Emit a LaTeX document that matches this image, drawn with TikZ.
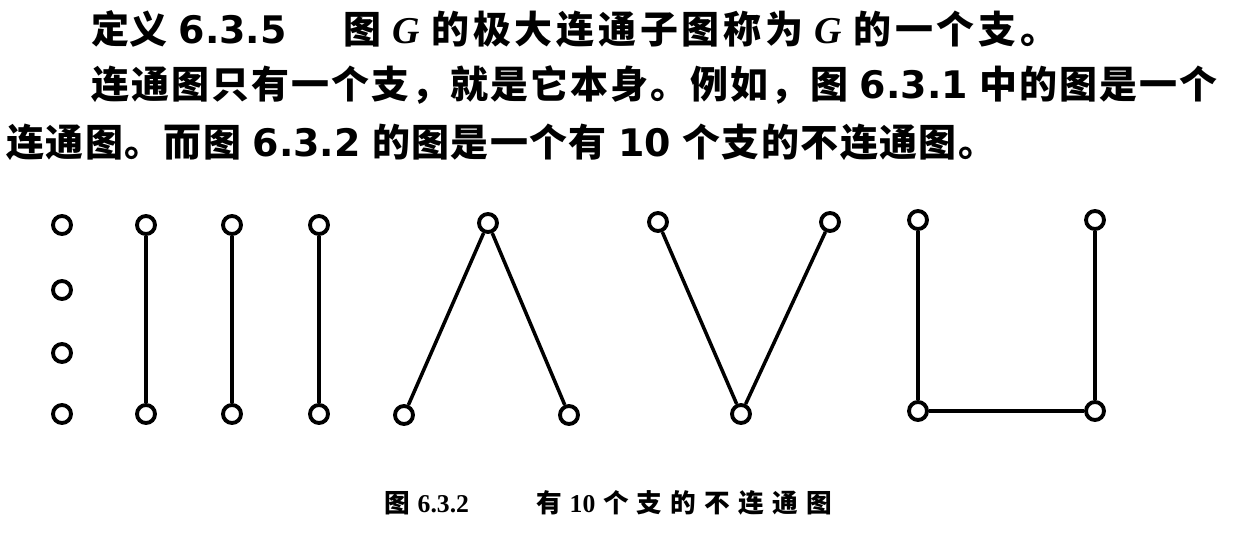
\documentclass[tikz,border=0pt]{standalone}
\usepackage{fontspec}
\newfontfamily\cjk{Noto Sans CJK SC}
\newfontfamily\latn{Liberation Serif}
\newfontfamily\digs{DejaVu Sans}
\newcommand{\num}[1]{\hspace{.3em}{\digs\bfseries #1}\hspace{.3em}}
\newcommand{\capnum}[1]{\hspace{.3em}{\latn\bfseries #1}\hspace{.3em}}
\newcommand{\gv}{\hspace{.3em}{\latn\bfseries\itshape G}\hspace{.3em}}
% stretchable glue between CJK characters, so a line can be spread
\XeTeXinterchartokenstate=1
\newXeTeXintercharclass\cjkclass
\newcount\cjkidx
\cjkidx="4E00
\loop
  \XeTeXcharclass\cjkidx=\cjkclass
  \ifnum\cjkidx<"9FFF \advance\cjkidx by 1
\repeat
\XeTeXcharclass"3002=\cjkclass
\XeTeXcharclass"FF0C=\cjkclass
\XeTeXinterchartoks\cjkclass\cjkclass={\hskip 0pt plus 1pt\relax}

\begin{document}
\begin{tikzpicture}[x=0.02cm, y=-0.02cm,
    vtx/.style={circle, draw, line width=2.2pt, minimum size=0.36cm, inner sep=0pt},
    edge/.style={line width=2pt},
    para/.style={anchor=west, inner sep=0pt, font=\cjk\bfseries\fontsize{21.6}{26}\selectfont},
    capt/.style={anchor=west, inner sep=0pt, font=\cjk\bfseries\fontsize{14.6}{17}\selectfont}]
  \useasboundingbox (0,0) rectangle (1239,534);

  % Text
  \node[para] (defnHead) at (91,29) {定义\num{6.3.5}};
  \node[para] (defnBody) at (343,29) {\hbox to 14.3cm{图\gv{}的极大连通子图称为\gv{}的一个支。}};
  \node[para] (lineA) at (91,85) {\hbox to 22.52cm{连通图只有一个支，就是它本身。例如，图\num{6.3.1}中的图是一个}};
  \node[para] (lineB) at (6,142) {\hbox to 19.8cm{连通图。而图\num{6.3.2}的图是一个有\num{10}个支的不连通图。}};

  % Nodes
  \node[vtx] (a1) at (62,225) {};
  \node[vtx] (a2) at (62,290) {};
  \node[vtx] (a3) at (62,353) {};
  \node[vtx] (a4) at (62,414) {};
  \node[vtx] (b1) at (146,225) {};
  \node[vtx] (b2) at (146,414) {};
  \node[vtx] (c1) at (232,225) {};
  \node[vtx] (c2) at (232,414) {};
  \node[vtx] (d1) at (319,225) {};
  \node[vtx] (d2) at (319,414) {};
  \node[vtx] (lamTop) at (488,223) {};
  \node[vtx] (lamLeft) at (404,415) {};
  \node[vtx] (lamRight) at (569,415) {};
  \node[vtx] (vLeft) at (658,222) {};
  \node[vtx] (vRight) at (830,222) {};
  \node[vtx] (vBottom) at (741,414) {};
  \node[vtx] (uTopLeft) at (918,220) {};
  \node[vtx] (uTopRight) at (1095,220) {};
  \node[vtx] (uBotLeft) at (918,411) {};
  \node[vtx] (uBotRight) at (1095,411) {};

  % Edges
  \draw[edge] (b1) -- (b2);
  \draw[edge] (c1) -- (c2);
  \draw[edge] (d1) -- (d2);
  \draw[edge] (lamTop) -- (lamLeft);
  \draw[edge] (lamTop) -- (lamRight);
  \draw[edge] (vLeft) -- (vBottom);
  \draw[edge] (vRight) -- (vBottom);
  \draw[edge] (uTopLeft) -- (uBotLeft);
  \draw[edge] (uBotLeft) -- (uBotRight);
  \draw[edge] (uBotRight) -- (uTopRight);

  % Caption
  \node[capt] (capNum) at (384,503) {图\capnum{6.3.2}};
  \node[capt] (capText) at (536,503) {\hbox to 5.92cm{有\capnum{10}个支的不连通图}};
\end{tikzpicture}
\end{document}
